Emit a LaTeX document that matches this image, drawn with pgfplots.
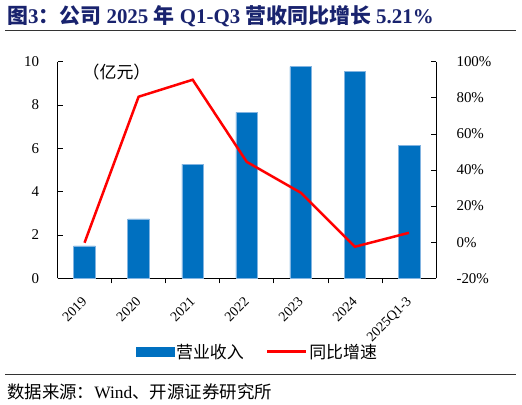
\documentclass[border=0pt]{standalone}
\usepackage{fontspec}
\setmainfont{Liberation Serif}
\newfontfamily\cjk{Noto Sans CJK SC}
\usepackage{pgfplots}
\pgfplotsset{compat=1.18}
\definecolor{barblue}{RGB}{0,112,192}
\definecolor{baredge}{RGB}{130,180,225}
\definecolor{titleblue}{RGB}{25,35,110}
\definecolor{linered}{RGB}{255,0,0}
\begin{document}
\begin{tikzpicture}[x=1bp,y=1bp]
\path (0,0) rectangle (522,404);
\node[anchor=west, inner sep=0, text=titleblue, font=\fontsize{21}{23}\selectfont\bfseries] at (7,388) {{\cjk 图}3{\cjk ：公司} 2025 {\cjk 年} Q1-Q3 {\cjk 营收同比增长} 5.21\%};
\draw[line width=1bp, black!80] (5,374) -- (516,374);
\draw[line width=1bp, black!80] (5,29.7) -- (516,29.7);
\node[anchor=west, inner sep=0, font=\fontsize{17.5}{19}\selectfont] at (7,12.3) {{\cjk 数据来源：}Wind{\cjk 、开源证券研究所}};

\begin{axis}[
  at={(57.5bp,125.7bp)}, anchor=south west,
  scale only axis, width=378.5bp, height=216.6bp,
  xmin=-0.5, xmax=6.5, ymin=0, ymax=10,
  ytick={0,2,...,10},
  axis x line*=bottom, axis y line*=left,
  xtick={0,...,6},
  xticklabels={2019,2020,2021,2022,2023,2024,2025Q1-3},
  major x tick style={draw=none},
  minor xtick={0.5,1.5,...,5.5},
  tick align=inside,
  major tick length=5bp, minor tick length=5bp,
  tick style={black, line width=0.6bp},
  axis line style={black, line width=0.8bp},
  /pgf/number format/assume math mode=true,
  yticklabel style={font=\fontsize{15}{18}\selectfont, xshift=-15bp},
  xticklabel style={font=\fontsize{14}{16}\selectfont, rotate=45, anchor=north east, xshift=-8bp, yshift=-3bp},
  ybar, bar width=21.7bp,
]
\addplot[fill=barblue, draw=baredge, line width=0.6bp] coordinates {(0,1.50) (1,2.74) (2,5.27) (3,7.66) (4,9.77) (5,9.56) (6,6.15)};
\node[font=\fontsize{17}{18}\selectfont\cjk] at (rel axis cs:0.156,0.954) {（亿元）};
\end{axis}

\begin{axis}[
  at={(57.5bp,125.7bp)}, anchor=south west,
  scale only axis, width=378.5bp, height=216.6bp,
  xmin=-0.5, xmax=6.5, ymin=-20, ymax=100,
  ytick={-20,0,...,100},
  axis y line*=right, axis x line=none,
  tick align=inside,
  major tick length=5bp,
  tick style={black, line width=0.6bp},
  axis line style={black, line width=0.8bp},
  /pgf/number format/assume math mode=true,
  yticklabel={\pgfmathprintnumber{\tick}\%},
  yticklabel style={font=\fontsize{15}{18}\selectfont, xshift=17bp},
  legend style={draw=none, fill=none, at={(0.528,-0.339)}, anchor=center,
    font=\fontsize{17}{18}\selectfont\cjk, legend columns=2,
    /tikz/every even column/.append style={column sep=20bp}},
]
\addlegendimage{legend image code/.code={\fill[barblue] (0bp,-4.5bp) rectangle (38bp,4.5bp);}}
\addlegendentry{营业收入}
\addlegendimage{legend image code/.code={\draw[linered, line width=2.5bp] (0bp,0bp) -- (39bp,0bp);}}
\addlegendentry{同比增速}
\addplot[linered, line width=2.5bp, mark=none, forget plot] coordinates {(0,-0.3) (1,80.6) (2,90.0) (3,44.5) (4,27.4) (5,-2.5) (6,5.21)};
\end{axis}
\end{tikzpicture}
\end{document}
